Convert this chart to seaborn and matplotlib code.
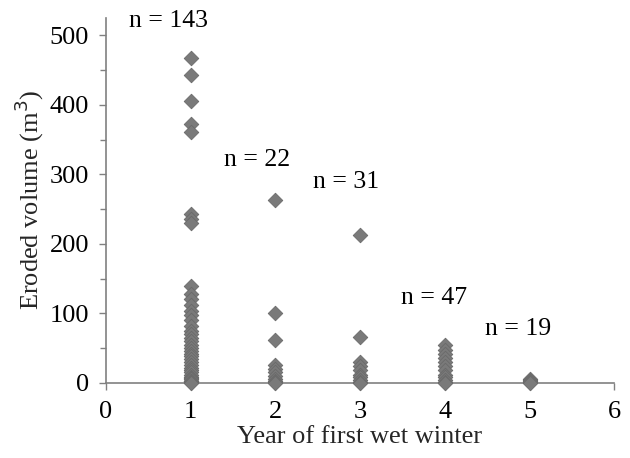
import matplotlib
matplotlib.use("Agg")
import matplotlib.pyplot as plt
import seaborn as sns
import pandas as pd
from matplotlib.ticker import MultipleLocator

# Data (values in m^3)
year1 = [467, 443, 405, 373, 361, 243, 236, 230, 140, 128, 120, 112, 104, 97,
         90, 82, 75, 70, 65, 60, 55, 50, 46, 42, 38, 34, 30, 26, 22, 18, 15,
         12, 9, 7, 5, 3, 2, 1, 0]
year2 = [263, 100, 62, 26, 20, 15, 10, 6, 3, 1, 0]
year3 = [213, 66, 30, 24, 18, 12, 8, 4, 1, 0]
year4 = [55, 48, 42, 36, 30, 24, 18, 12, 8, 4, 1, 0]
year5 = [6, 4, 2, 1, 0]
n_labels = ["n = 143", "n = 22", "n = 31", "n = 47", "n = 19"]
label_x = [0.74, 1.79, 2.84, 3.87, 4.87]
label_y = [521, 320, 289, 122, 78]

years = [1] * len(year1) + [2] * len(year2) + [3] * len(year3) + [4] * len(year4) + [5] * len(year5)
volumes = year1 + year2 + year3 + year4 + year5
df = pd.DataFrame({"year": years, "volume": volumes})

sns.set_theme(style="white")
plt.rcParams["font.family"] = ["Liberation Serif", "DejaVu Serif"]

fig = plt.figure(figsize=(6.3, 4.58), dpi=100)
ax = fig.add_axes([0.168, 0.164, 0.807, 0.797])

sns.scatterplot(data=df, x="year", y="volume", ax=ax, marker="D", s=55,
                color="#7a7a7a", edgecolor="#6a6a6a", linewidth=0.6,
                clip_on=False, zorder=3)

for t, x, y in zip(n_labels, label_x, label_y):
    ax.text(x, y, t, ha="center", va="center", fontsize=18.5, color="black")

ax.set_xlim(0, 6)
ax.set_ylim(0, 525)
ax.set_xticks(range(0, 7))
ax.set_yticks(range(0, 501, 100))
ax.yaxis.set_minor_locator(MultipleLocator(50))

for side in ["top", "right"]:
    ax.spines[side].set_visible(False)
for side in ["left", "bottom"]:
    ax.spines[side].set_color("#808080")
    ax.spines[side].set_linewidth(1.2)

ax.tick_params(axis="both", which="major", direction="out", length=5,
               width=1.0, color="#808080", labelsize=19, labelcolor="black",
               left=True, bottom=True)
ax.tick_params(axis="x", which="major", pad=8)
ax.tick_params(axis="y", which="major", pad=7)
ax.tick_params(axis="y", which="minor", direction="out", length=4,
               width=1.0, color="#808080", left=True)

ax.set_xlabel("Year of first wet winter", fontsize=19, labelpad=2)
ax.set_ylabel("Eroded volume (m$^3$)", fontsize=19, labelpad=3)

fig.savefig("out.png", dpi=100)
